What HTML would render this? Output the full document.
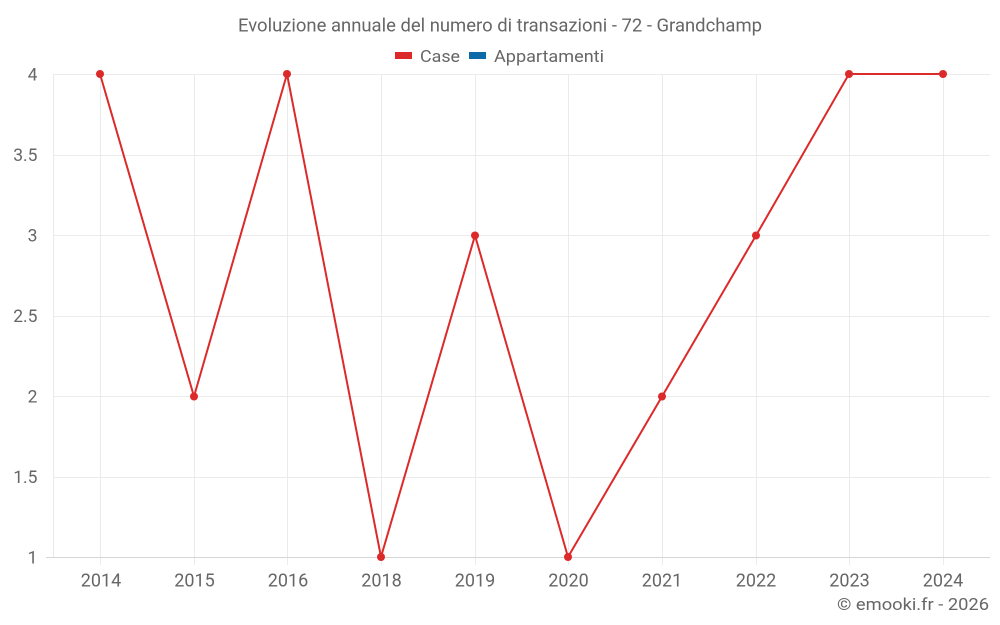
<!DOCTYPE html>
<html><head><meta charset="utf-8"><style>
html,body{margin:0;padding:0;background:#fff;}
svg{display:block;font-family:"Roboto","Liberation Sans",sans-serif;}
</style></head><body>
<svg width="1000" height="625" viewBox="0 0 1000 625" xmlns="http://www.w3.org/2000/svg">
<rect width="1000" height="625" fill="#fff"/>
<g stroke="#ebebeb" stroke-width="1">
<line x1="53" y1="74.5" x2="990" y2="74.5"/>
<line x1="53" y1="155.5" x2="990" y2="155.5"/>
<line x1="53" y1="235.5" x2="990" y2="235.5"/>
<line x1="53" y1="316.5" x2="990" y2="316.5"/>
<line x1="53" y1="396.5" x2="990" y2="396.5"/>
<line x1="53" y1="477.5" x2="990" y2="477.5"/>
<line x1="53.5" y1="74" x2="53.5" y2="557"/>
<line x1="100.5" y1="74" x2="100.5" y2="565"/>
<line x1="194.5" y1="74" x2="194.5" y2="565"/>
<line x1="287.5" y1="74" x2="287.5" y2="565"/>
<line x1="381.5" y1="74" x2="381.5" y2="565"/>
<line x1="475.5" y1="74" x2="475.5" y2="565"/>
<line x1="568.5" y1="74" x2="568.5" y2="565"/>
<line x1="662.5" y1="74" x2="662.5" y2="565"/>
<line x1="756.5" y1="74" x2="756.5" y2="565"/>
<line x1="849.5" y1="74" x2="849.5" y2="565"/>
<line x1="943.5" y1="74" x2="943.5" y2="565"/>
</g>
<line x1="46" y1="557.5" x2="990" y2="557.5" stroke="#d6d6d6" stroke-width="1"/>
<g fill="#666" font-size="17.5" text-anchor="end">
<text x="37.5" y="80.5">4</text>
<text x="37.5" y="161">3.5</text>
<text x="37.5" y="241.5">3</text>
<text x="37.5" y="322">2.5</text>
<text x="37.5" y="402.5">2</text>
<text x="37.5" y="483">1.5</text>
<text x="37.5" y="563.5">1</text>
</g>
<g fill="#666" font-size="18" text-anchor="middle">
<text x="101" y="586.5">2014</text>
<text x="194.5" y="586.5">2015</text>
<text x="288" y="586.5">2016</text>
<text x="381.5" y="586.5">2018</text>
<text x="475" y="586.5">2019</text>
<text x="568.5" y="586.5">2020</text>
<text x="662" y="586.5">2021</text>
<text x="756" y="586.5">2022</text>
<text x="849.5" y="586.5">2023</text>
<text x="943" y="586.5">2024</text>
</g>
<text x="500" y="31.5" fill="#666" font-size="18" text-anchor="middle" textLength="524" lengthAdjust="spacingAndGlyphs">Evoluzione annuale del numero di transazioni - 72 - Grandchamp</text>
<rect x="395" y="52" width="17" height="7" fill="#dc2a2a"/>
<text x="420" y="62" fill="#666" font-size="17" textLength="40" lengthAdjust="spacingAndGlyphs">Case</text>
<rect x="469" y="52" width="17" height="7" fill="#0d6aa6"/>
<text x="494" y="62" fill="#666" font-size="17" textLength="110" lengthAdjust="spacingAndGlyphs">Appartamenti</text>
<polyline fill="none" stroke="#dc2a2a" stroke-width="2" stroke-linejoin="round"
points="100,74 194,396.5 287,74 381,557 475,235.5 568,557 662,396.5 756,235.5 849,74 943,74"/>
<g fill="#dc2a2a">
<circle cx="100" cy="74" r="4"/>
<circle cx="194" cy="396.5" r="4"/>
<circle cx="287" cy="74" r="4"/>
<circle cx="381" cy="557" r="4"/>
<circle cx="475" cy="235.5" r="4"/>
<circle cx="568" cy="557" r="4"/>
<circle cx="662" cy="396.5" r="4"/>
<circle cx="756" cy="235.5" r="4"/>
<circle cx="849" cy="74" r="4"/>
<circle cx="943" cy="74" r="4"/>
</g>
<text x="989" y="610" fill="#666" font-size="17" text-anchor="end" textLength="152" lengthAdjust="spacingAndGlyphs">© emooki.fr - 2026</text>
</svg>
</body></html>
